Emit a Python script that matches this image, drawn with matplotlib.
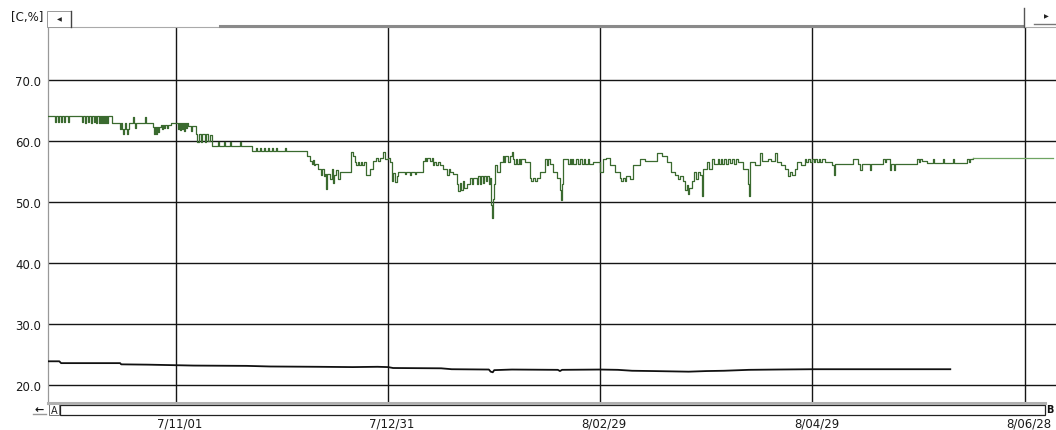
import numpy as np
import matplotlib.pyplot as plt
import matplotlib.transforms as mtransforms
from matplotlib.lines import Line2D
from matplotlib.patches import Rectangle

W, H = 1056, 431

# x axis: days counted from 2007/11/01
tick_days = [0, 60, 120, 180, 240]
tick_labels = ['7/11/01', '7/12/31', '8/02/29', '8/04/29', '8/06/28']
y_ticks = [20, 30, 40, 50, 60, 70]

# humidity [%] (green, stepped logger trace)
green_pts = [
    (-36.2, 64.1),
    (-34.2, 63.1), (-34.0, 64.1), (-33.4, 63.1), (-33.2, 64.1), (-32.5, 63.1), (-32.3, 64.1),
    (-31.7, 63.2), (-31.5, 64.1), (-30.6, 63.1), (-30.4, 64.1),
    (-26.6, 63.1), (-26.4, 64.1), (-25.7, 63.0), (-25.5, 64.1), (-24.9, 63.1), (-24.7, 64.1),
    (-24.0, 63.0), (-23.7, 64.1), (-23.2, 63.1), (-22.9, 64.1), (-22.6, 63.0), (-22.3, 64.1),
    (-21.9, 63.0), (-21.6, 64.1), (-21.2, 63.0), (-20.9, 64.1), (-20.6, 63.0), (-20.3, 64.1),
    (-20.0, 63.0), (-19.7, 64.1), (-19.4, 63.0), (-19.1, 64.1),
    (-18.1, 63.0),
    (-15.8, 62.0), (-15.5, 62.9), (-15.3, 62.0), (-15.0, 61.2), (-14.8, 62.0), (-14.5, 62.9),
    (-14.2, 62.0), (-13.9, 61.1), (-13.7, 62.0), (-13.4, 63.0),
    (-12.2, 63.9), (-12.0, 63.0), (-11.6, 62.1), (-11.4, 63.0), (-8.8, 64.0), (-8.6, 63.0),
    (-6.5, 62.3), (-6.2, 61.2), (-5.9, 62.3), (-5.6, 61.2), (-5.3, 62.3), (-5.0, 61.5), (-4.8, 62.3),
    (-4.2, 62.7), (-3.9, 62.0), (-3.7, 62.7), (-3.3, 62.1), (-3.1, 62.7), (-2.6, 62.2), (-2.3, 62.7),
    (-1.4, 62.9),
    (0.6, 62.0), (0.9, 62.9), (1.1, 61.8), (1.4, 62.9), (1.7, 62.0), (2.0, 62.9), (2.3, 61.7),
    (2.6, 62.9), (2.8, 62.2), (3.1, 62.9), (3.4, 62.4), (4.0, 62.5), (4.3, 61.6), (4.5, 62.5),
    (5.7, 61.1), (6.0, 59.9), (6.5, 61.1), (7.0, 59.9), (7.4, 61.1), (8.2, 59.8), (8.5, 61.1),
    (9.1, 60.0), (9.5, 61.0), (10.2, 59.2),
    (11.9, 59.9), (12.1, 59.2), (13.6, 59.9), (13.8, 59.2), (15.3, 59.9), (15.5, 59.2),
    (18.1, 59.9), (18.3, 59.2),
    (21.5, 58.3),
    (22.6, 58.9), (22.9, 58.3), (23.8, 58.9), (24.1, 58.3), (24.9, 58.9), (25.2, 58.3),
    (26.0, 58.9), (26.3, 58.3), (27.2, 58.9), (27.5, 58.3), (28.3, 58.9), (28.6, 58.3),
    (30.8, 58.9), (31.0, 58.3),
    (37.1, 57.5), (37.9, 56.8), (38.5, 56.2), (38.8, 56.9), (39.1, 56.1), (39.3, 56.2),
    (40.2, 55.5), (41.0, 54.5), (41.4, 55.5), (41.8, 54.2), (42.2, 54.6), (42.5, 52.1),
    (42.8, 54.6), (43.6, 53.8), (44.0, 55.4), (44.4, 53.2), (44.8, 54.5), (45.3, 55.2),
    (45.7, 53.8), (46.4, 55.0),
    (49.5, 58.2), (50.1, 57.5), (50.6, 56.5), (51.0, 56.0), (51.5, 56.5), (51.9, 56.0),
    (52.3, 56.6), (52.7, 56.1), (53.2, 56.5),
    (53.7, 54.5), (54.9, 55.5), (55.7, 56.8), (56.6, 57.2), (57.2, 56.8), (57.7, 57.2),
    (58.6, 58.2), (59.0, 57.0), (60.0, 57.3), (60.5, 56.5),
    (61.1, 53.5), (61.5, 54.8), (62.0, 53.3), (62.4, 54.2), (62.8, 55.0),
    (64.8, 54.6), (65.1, 55.0), (66.2, 54.5), (66.5, 55.0), (67.6, 54.6), (67.9, 55.0),
    (69.9, 56.8), (70.3, 57.3), (70.7, 56.8), (71.1, 57.3), (71.9, 56.8), (72.3, 57.3),
    (72.7, 56.0), (73.1, 56.6), (73.6, 56.0), (74.0, 56.6), (74.7, 56.0), (75.5, 55.5),
    (76.7, 54.5), (77.1, 55.5), (77.5, 55.0), (78.4, 54.6), (79.5, 53.0), (79.9, 51.8),
    (80.3, 53.2), (80.7, 52.0), (81.2, 53.4), (81.6, 52.3), (82.3, 53.0), (83.2, 54.0),
    (83.6, 53.0), (84.0, 54.0), (85.1, 53.0), (85.5, 54.2), (86.0, 53.0), (86.4, 54.2),
    (86.9, 53.2), (87.2, 54.2), (87.7, 53.4), (88.0, 54.2), (88.5, 53.0), (88.8, 54.0),
    (89.1, 49.5), (89.4, 47.4), (89.7, 50.5), (90.0, 53.0), (90.2, 56.0), (90.8, 55.0),
    (91.7, 56.5), (92.4, 57.5), (92.8, 56.5), (93.1, 57.5), (93.8, 56.5), (94.5, 57.5),
    (95.0, 58.2), (95.3, 57.0), (95.7, 56.2), (96.1, 57.0), (96.5, 56.2), (96.9, 57.0),
    (97.3, 56.2), (97.7, 57.0), (98.7, 56.5), (100.1, 54.0), (100.5, 53.5), (100.9, 54.0),
    (101.6, 53.5), (102.0, 54.0), (103.0, 55.0), (104.4, 57.0), (104.8, 56.0), (105.2, 57.0),
    (105.8, 56.2), (106.6, 55.0), (107.8, 54.0),
    (108.6, 52.0), (108.9, 50.3), (109.2, 53.0), (109.5, 57.0), (110.9, 56.2), (111.3, 57.0),
    (111.7, 56.2), (112.0, 57.0), (112.4, 56.2), (113.2, 57.0), (113.6, 56.2), (114.3, 57.0),
    (114.7, 56.2), (115.4, 57.0), (115.8, 56.2), (116.5, 57.0), (116.9, 56.2), (118.0, 56.5),
    (119.9, 55.0), (120.8, 57.0), (121.6, 57.2), (122.8, 56.0), (124.2, 55.0), (125.6, 54.0),
    (126.0, 53.5), (126.4, 54.0), (127.0, 53.5), (127.4, 54.2), (128.4, 53.8), (129.3, 56.0),
    (131.3, 57.0), (132.7, 56.8),
    (134.1, 56.7), (136.1, 58.1), (137.5, 57.5), (138.9, 56.5), (140.0, 55.0), (141.2, 54.5),
    (142.0, 53.8), (142.6, 54.3), (143.3, 53.5), (144.0, 52.0), (144.4, 52.8), (144.8, 51.3),
    (145.2, 52.3), (146.0, 53.5), (146.5, 55.0), (147.1, 53.8), (147.6, 55.0), (148.2, 54.5),
    (148.8, 51.0), (149.1, 55.5), (150.2, 56.5), (150.8, 55.5), (151.6, 57.0), (152.2, 56.3),
    (153.3, 57.0), (153.7, 56.3), (154.1, 57.0), (154.5, 56.3), (155.0, 57.0), (155.6, 56.3),
    (156.0, 57.0), (156.7, 56.4), (157.2, 57.0), (157.8, 56.3), (158.3, 57.0), (159.0, 56.5),
    (160.4, 55.5), (161.8, 53.0), (162.1, 51.0), (162.4, 56.5), (163.8, 56.0), (165.2, 58.1),
    (165.7, 56.8), (167.4, 57.0), (168.4, 56.8), (169.4, 58.1), (170.0, 56.5), (171.1, 56.0),
    (172.3, 55.5), (173.0, 54.3), (173.7, 55.0), (174.2, 54.5), (175.0, 55.5), (175.7, 56.5),
    (176.8, 56.0), (177.9, 57.0), (178.3, 56.5), (178.8, 57.0), (179.4, 56.5), (180.0, 57.0),
    (180.4, 56.5), (180.8, 57.0), (181.3, 56.5), (181.8, 57.0), (182.2, 56.5), (182.7, 57.0),
    (183.6, 56.6), (185.6, 56.0), (186.0, 54.5), (186.4, 56.2), (191.5, 57.0), (192.9, 56.2),
    (193.5, 55.2), (193.9, 56.2), (196.3, 55.2), (196.6, 56.2), (200.0, 57.0), (200.4, 56.5),
    (200.8, 57.0), (202.0, 55.2), (202.3, 56.2), (203.1, 55.2), (203.4, 56.2), (209.6, 57.0),
    (210.1, 56.5), (210.5, 57.0), (211.0, 56.8), (212.4, 56.4), (214.1, 57.0), (214.4, 56.4),
    (216.9, 57.0), (217.2, 56.4), (219.7, 57.0), (220.0, 56.4), (223.8, 57.0), (224.2, 56.5),
    (224.6, 57.0), (225.5, 57.2),
]
# last value held to the right edge
green_tail = [(225.5, 57.2), (248.1, 57.2)]

# temperature [C] (black)
black_pts = [
    (-36.2, 23.9), (-33.0, 23.9), (-32.5, 23.6), (-15.8, 23.6), (-15.5, 23.4), (-8.0, 23.35),
    (5.0, 23.2), (20.0, 23.15), (26.6, 23.05), (40.0, 23.0), (50.0, 22.95), (57.0, 23.0),
    (60.0, 22.95), (61.4, 22.8), (75.0, 22.75), (78.0, 22.6), (88.5, 22.55), (89.0, 22.2),
    (89.6, 22.1), (90.0, 22.45), (95.0, 22.55), (108.0, 22.5), (108.6, 22.3), (109.2, 22.5),
    (119.9, 22.55), (125.0, 22.5), (129.0, 22.35), (135.0, 22.3), (145.0, 22.2), (150.0, 22.3),
    (155.0, 22.35), (162.0, 22.5), (170.0, 22.55), (180.0, 22.6), (200.0, 22.6), (219.0, 22.6),
]

fig = plt.figure(figsize=(W / 100, H / 100), dpi=100)
ax = fig.add_axes([48 / W, 1 - 405 / H, (W - 48) / W, (405 - 28) / H])
ax.set_xlim(-36.2, 248.9)
ax.set_ylim(16.9, 78.7)

gx, gy = zip(*green_pts)
ax.step(gx, gy, where='post', color='#3a6a2f', lw=0.9, zorder=3)
tx, ty = zip(*green_tail)
ax.plot(tx, ty, color='#6fa462', lw=0.9, zorder=3)
bx, by = zip(*black_pts)
ax.plot(bx, by, color='#111111', lw=1.3, zorder=3)

ax.set_xticks(tick_days)
ax.set_xticklabels(tick_labels, fontsize=8.5, color='#1a1a1a')
ax.set_yticks(y_ticks)
ax.set_yticklabels(['%.1f' % v for v in y_ticks], fontsize=8.5, color='#1a1a1a')
ax.tick_params(axis='x', length=0, pad=9)
ax.tick_params(axis='y', length=0, pad=5)
ax.grid(True, color='#151515', lw=1.0)
ax.set_axisbelow(True)
for lab in ax.get_xticklabels():
    lab.set_transform(lab.get_transform() + mtransforms.ScaledTranslation(0.04, 0, fig.dpi_scale_trans))

ax.spines['right'].set_visible(False)
ax.spines['bottom'].set_visible(False)
ax.spines['left'].set_color('#999999')
ax.spines['left'].set_linewidth(0.9)
ax.spines['top'].set_color('#aaaaaa')
ax.spines['top'].set_linewidth(0.8)

# window chrome drawn in pixel coordinates
px = mtransforms.Affine2D().scale(1 / W, -1 / H).translate(0, 1) + fig.transFigure

def hline(x0, x1, y, c, lw):
    fig.add_artist(Line2D([x0, x1], [y, y], color=c, lw=lw, transform=px))

def vline(x, y0, y1, c, lw):
    fig.add_artist(Line2D([x, x], [y0, y1], color=c, lw=lw, transform=px))

fig.text(27 / W, 1 - 18 / H, '[C,%]', fontsize=8.5, ha='center', va='center', color='#1a1a1a')

# top scroll bar
fig.add_artist(Rectangle((47, 12), 24, 16, transform=px, fc='white', ec='#999999', lw=0.7))
vline(71, 12, 28, '#444444', 1.0)
fig.text(59 / W, 1 - 20 / H, '\u25c0', fontsize=4.5, ha='center', va='center', color='#222')
hline(220, 1022, 27, '#8a8a8a', 2.2)
vline(1024, 9, 28, '#555555', 1.0)
hline(1034, 1056, 25, '#777777', 1.0)
fig.text(1046 / W, 1 - 17 / H, '\u25b6', fontsize=4.5, ha='center', va='center', color='#222')

# bottom scroll bar
hline(48, 1045, 404.5, '#b0b0b0', 2.2)
fig.add_artist(Rectangle((60, 406), 985, 10, transform=px, fc='white', ec='#222222', lw=0.9))
fig.add_artist(Rectangle((49, 405), 10, 11, transform=px, fc='white', ec='#777777', lw=0.7))
fig.text(54 / W, 1 - 411 / H, 'A', fontsize=7, ha='center', va='center', color='#222')
fig.text(39 / W, 1 - 410 / H, '\u2190', fontsize=8, fontweight='bold', ha='center', va='center', color='#111')
hline(33, 46, 415, '#999999', 1.0)
fig.text(1050 / W, 1 - 410 / H, 'B', fontsize=7, fontweight='bold', ha='center', va='center', color='#111')

fig.savefig('out.png', dpi=100)
